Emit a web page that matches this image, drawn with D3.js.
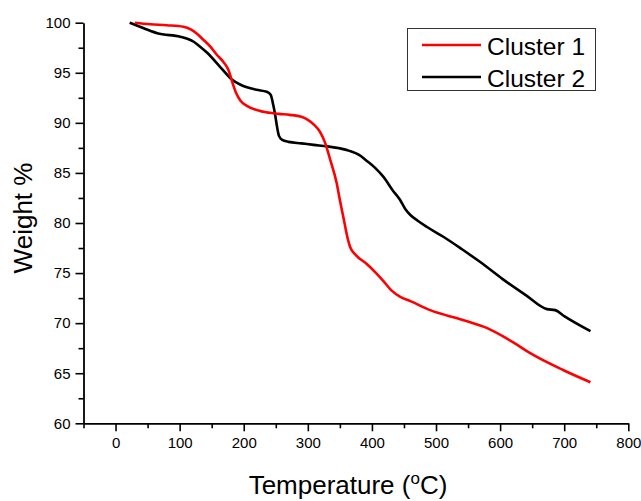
<!DOCTYPE html>
<html>
<head>
<meta charset="utf-8">
<script src="https://cdn.jsdelivr.net/npm/d3@7"></script>
<style>
  html, body { margin: 0; padding: 0; background: #fff; }
  svg { display: block; font-family: "Liberation Sans", Arial, sans-serif; }
</style>
</head>
<body>
<svg id="chart" width="641" height="501"></svg>
<script>
// Data
const seriesNames = ["Cluster 1", "Cluster 2"];
const seriesColors = ["#ff0000", "#000000"];

const temps1 = [30, 54, 80, 106, 118, 127, 137, 148, 158, 168, 176, 182, 188, 195, 205, 231, 255, 272, 290, 300, 310, 319, 327, 335, 345, 350, 356, 362, 366, 375, 392, 405, 418, 430, 445, 460, 491, 543, 580, 604, 625, 647, 699, 741];
const weights1 = [100, 99.85, 99.75, 99.6, 99.3, 98.9, 98.3, 97.6, 96.8, 96.1, 95.3, 94.1, 93.0, 92.2, 91.7, 91.1, 90.9, 90.8, 90.6, 90.3, 89.8, 89.1, 88.0, 86.3, 84.0, 82.3, 80.4, 78.5, 77.6, 76.8, 75.9, 75.1, 74.2, 73.3, 72.6, 72.2, 71.3, 70.3, 69.5, 68.7, 67.9, 67.0, 65.3, 64.1];

const temps2 = [22, 44, 65, 101, 112, 122, 132, 143, 163, 182, 195, 205, 220, 236, 242, 246, 249, 252, 255, 260, 270, 290, 309, 330, 350, 365, 380, 392, 405, 418, 432, 444, 452, 460, 472, 486, 512, 540, 569, 604, 640, 673, 686, 700, 741];
const weights2 = [100, 99.45, 98.95, 98.6, 98.4, 98.1, 97.6, 97.0, 95.6, 94.3, 93.8, 93.55, 93.3, 93.1, 92.8, 91.8, 90.8, 89.6, 88.7, 88.3, 88.1, 87.95, 87.8, 87.65, 87.45, 87.2, 86.8, 86.2, 85.5, 84.6, 83.3, 82.3, 81.4, 80.8, 80.2, 79.6, 78.6, 77.4, 76.1, 74.4, 72.8, 71.4, 71.3, 70.7, 69.2];

const xTicks = [0, 100, 200, 300, 400, 500, 600, 700, 800];
const xMinorTicks = [-50, 50, 150, 250, 350, 450, 550, 650, 750];
const yTicks = [60, 65, 70, 75, 80, 85, 90, 95, 100];
const yMinorTicks = [62.5, 67.5, 72.5, 77.5, 82.5, 87.5, 92.5, 97.5];

const xTitle = "Temperature (";
const yTitle = "Weight %";

const svg = d3.select("#chart");
const x = d3.scaleLinear().domain([-50, 800]).range([83.5, 628.3]);
const y = d3.scaleLinear().domain([60, 100]).range([423.3, 22.7]);

// Minor ticks
svg.append("g").attr("transform", `translate(0,${y(60)})`)
  .call(d3.axisBottom(x).tickValues(xMinorTicks).tickSize(5).tickFormat(""))
  .call(g => g.select(".domain").remove())
  .call(g => g.selectAll("line").attr("stroke-width", 1.6));
svg.append("g").attr("transform", `translate(${x(-50)},0)`)
  .call(d3.axisLeft(y).tickValues(yMinorTicks).tickSize(5).tickFormat(""))
  .call(g => g.select(".domain").remove())
  .call(g => g.selectAll("line").attr("stroke-width", 1.6));

// Major axes
const xAxis = svg.append("g").attr("transform", `translate(0,${y(60)})`)
  .call(d3.axisBottom(x).tickValues(xTicks).tickSize(8).tickSizeOuter(0).tickPadding(6).tickFormat(d3.format("d")));
xAxis.select(".domain").attr("stroke-width", 1.8);
xAxis.selectAll("line").attr("stroke-width", 1.6);
xAxis.selectAll("text").attr("font-size", 15).attr("font-family", "Liberation Sans, Arial, sans-serif").attr("fill", "#000");

const yAxis = svg.append("g").attr("transform", `translate(${x(-50)},0)`)
  .call(d3.axisLeft(y).tickValues(yTicks).tickSize(8).tickSizeOuter(0).tickPadding(5).tickFormat(d3.format("d")));
yAxis.select(".domain").attr("stroke-width", 1.8);
yAxis.selectAll("line").attr("stroke-width", 1.6);
yAxis.selectAll("text").attr("font-size", 15).attr("font-family", "Liberation Sans, Arial, sans-serif").attr("fill", "#000");

// Lines
const series = [
  temps1.map((t, i) => [t, weights1[i]]),
  temps2.map((t, i) => [t, weights2[i]])
];
const line = d3.line().x(d => x(d[0])).y(d => y(d[1])).curve(d3.curveMonotoneX);
[1, 0].forEach(i => {
  svg.append("path").datum(series[i])
    .attr("fill", "none")
    .attr("stroke", seriesColors[i])
    .attr("stroke-width", 2.6)
    .attr("stroke-linejoin", "round")
    .attr("d", line);
});

// Axis titles
const xt = svg.append("text")
  .attr("x", 348).attr("y", 494)
  .attr("text-anchor", "middle")
  .attr("font-size", 26)
  .attr("fill", "#000");
xt.append("tspan").text(xTitle);
xt.append("tspan").attr("font-size", 17).attr("dy", -10).text("o");
xt.append("tspan").attr("dy", 10).text("C)");

svg.append("text")
  .attr("transform", `translate(32,218) rotate(-90)`)
  .attr("text-anchor", "middle")
  .attr("font-size", 26)
  .attr("fill", "#000")
  .text(yTitle);

// Legend
const legend = svg.append("g");
legend.append("rect")
  .attr("x", 407.5).attr("y", 28.5).attr("width", 188).attr("height", 62)
  .attr("fill", "#fff").attr("stroke", "#333").attr("stroke-width", 1);
seriesNames.forEach((name, i) => {
  const ly = 45 + i * 32;
  legend.append("line")
    .attr("x1", 422).attr("x2", 481).attr("y1", ly).attr("y2", ly)
    .attr("stroke", seriesColors[i]).attr("stroke-width", 2.6);
  legend.append("text")
    .attr("x", 487).attr("y", ly + 10)
    .attr("font-size", 24.5)
    .attr("fill", "#000")
    .text(name);
});
</script>
</body>
</html>
